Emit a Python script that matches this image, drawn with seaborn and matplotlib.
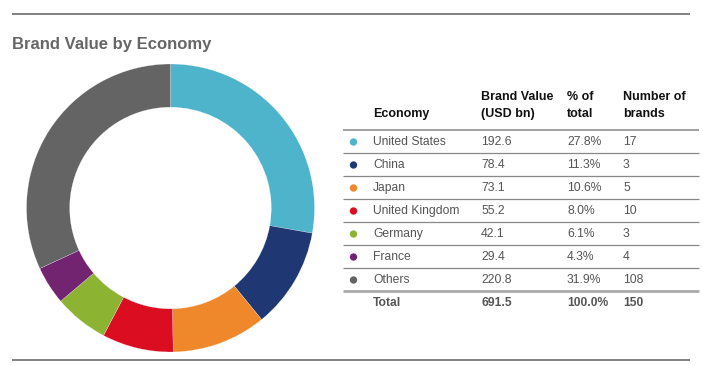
import matplotlib
matplotlib.use("Agg")
import matplotlib.pyplot as plt
import seaborn as sns
import pandas as pd

economies = ["United States", "China", "Japan", "United Kingdom", "Germany", "France", "Others"]
brand_value = [192.6, 78.4, 73.1, 55.2, 42.1, 29.4, 220.8]
pct_total = [27.8, 11.3, 10.6, 8.0, 6.1, 4.3, 31.9]
num_brands = [17, 3, 5, 10, 3, 4, 108]
total_value = "691.5"
total_pct = "100.0%"
total_brands = "150"
colors = ["#4db4cc", "#1f3772", "#ee882a", "#db0d21", "#8db332", "#732470", "#646464"]

sns.set_theme(style="white")
plt.rcParams["font.family"] = ["Liberation Sans", "DejaVu Sans"]

W, H = 703, 365
fig = plt.figure(figsize=(W / 100, H / 100), dpi=100)

# Donut
cx, cy, r = 170.5, 208.0, 144.0
pax = fig.add_axes([(cx - r) / W, (H - cy - r) / H, 2 * r / W, 2 * r / H])
pax.pie(pct_total, colors=colors, startangle=90, counterclock=False, radius=1.0,
        wedgeprops=dict(width=0.30, edgecolor="white", linewidth=0.15))
pax.set_xlim(-1, 1)
pax.set_ylim(-1, 1)
pax.set_axis_off()

# Overlay in pixel coordinates
ax = fig.add_axes([0, 0, 1, 1], zorder=-1)
ax.set_xlim(0, W)
ax.set_ylim(H, 0)
ax.set_axis_off()

ax.hlines([14, 359.5], 12, 690, color="#777777", linewidth=1.3)
ax.text(12, 45, "Brand Value by Economy", fontsize=12, fontweight="bold",
        color="#666666", va="center", ha="left")

x_dot, x_econ, x_val, x_pct, x_num = 353.5, 373, 481, 567, 623
row0, dy = 142, 23
fs = 8.7
hdr = dict(fontsize=9.0, fontweight="bold", color="#111111", va="center", ha="left")
ax.text(x_econ, 114, "Economy", **hdr)
ax.text(x_val, 97, "Brand Value", **hdr)
ax.text(x_val, 114, "(USD bn)", **hdr)
ax.text(x_pct, 97, "% of", **hdr)
ax.text(x_pct, 114, "total", **hdr)
ax.text(x_num, 97, "Number of", **hdr)
ax.text(x_num, 114, "brands", **hdr)

ax.hlines(129.5, 343, 699, color="#888888", linewidth=1.1)

rows_y = [row0 + i * dy for i in range(len(economies))]
df = pd.DataFrame({"x": [x_dot] * len(economies), "y": rows_y, "economy": economies})
sns.scatterplot(data=df, x="x", y="y", hue="economy", palette=colors, s=28,
                edgecolor="none", legend=False, ax=ax)

cell = dict(fontsize=fs, color="#555555", va="center", ha="left")
for i, y in enumerate(rows_y):
    ax.text(x_econ, y, economies[i], **cell)
    ax.text(x_val, y, f"{brand_value[i]:.1f}", **cell)
    ax.text(x_pct, y, f"{pct_total[i]:.1f}%", **cell)
    ax.text(x_num, y, f"{num_brands[i]}", **cell)
    if i < len(economies) - 1:
        ax.hlines(y + 10.5, 343, 699, color="#888888", linewidth=0.9)

ax.hlines(290.5, 343, 699, color="#aaaaaa", linewidth=2.0)
tot = dict(fontsize=fs, fontweight="bold", color="#555555", va="center", ha="left")
ax.text(x_econ, 303, "Total", **tot)
ax.text(x_val, 303, total_value, **tot)
ax.text(x_pct, 303, total_pct, **tot)
ax.text(x_num, 303, total_brands, **tot)

fig.savefig("out.png", dpi=100)
